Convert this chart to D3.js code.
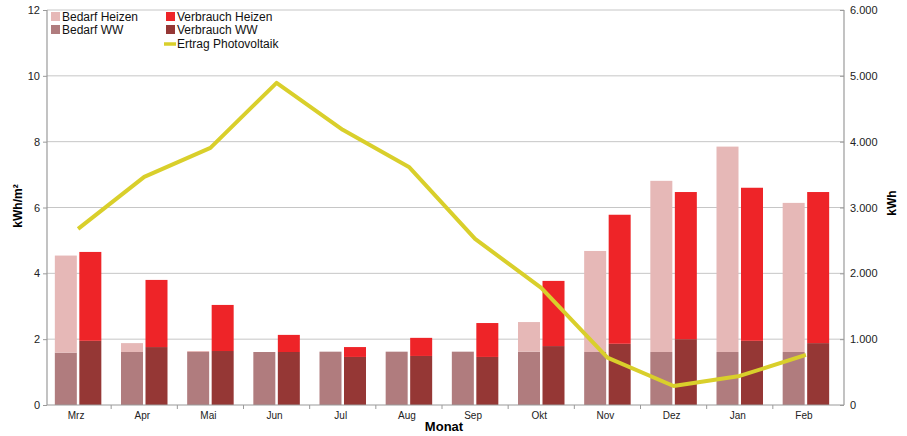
<!DOCTYPE html>
<html>
<head>
<meta charset="utf-8">
<script src="https://cdn.jsdelivr.net/npm/d3@7"></script>
<style>
  html, body { margin: 0; padding: 0; background: #fff; }
  svg { display: block; font-family: "Liberation Sans", Arial, sans-serif; }
</style>
</head>
<body>
<svg id="chart" width="907" height="436"></svg>
<script>
// Monthly demand vs. consumption (kWh/m²) and photovoltaic yield (kWh)
const months = ["Mrz", "Apr", "Mai", "Jun", "Jul", "Aug", "Sep", "Okt", "Nov", "Dez", "Jan", "Feb"];

const bedarfWW      = [1.59, 1.61, 1.61, 1.61, 1.62, 1.62, 1.62, 1.62, 1.61, 1.61, 1.61, 1.61];
const bedarfHeizen  = [2.95, 0.27, 0.03, 0.00, 0.00, 0.00, 0.00, 0.90, 3.07, 5.20, 6.24, 4.53];
const verbrauchWW     = [1.95, 1.76, 1.64, 1.61, 1.46, 1.49, 1.46, 1.79, 1.86, 2.00, 1.95, 1.88];
const verbrauchHeizen = [2.70, 2.04, 1.40, 0.52, 0.30, 0.55, 1.03, 1.98, 3.92, 4.47, 4.65, 4.59];

const ertragPV = [2675, 3465, 3906, 4894, 4180, 3617, 2523, 1778, 719, 289, 441, 760];

const leftTicks  = [0, 2, 4, 6, 8, 10, 12];
const rightTicks = [0, 1000, 2000, 3000, 4000, 5000, 6000];

const colors = {
  bedarfHeizen: "#e6b8b7",
  bedarfWW: "#b07c7e",
  verbrauchHeizen: "#ee2428",
  verbrauchWW: "#953735",
  pv: "#d9cf2b"
};

const svg = d3.select("#chart");
const plotLeft = 47, plotRight = 844, plotTop = 10, plotBottom = 405;

// month bands (slightly inset from the right axis)
const x = d3.scaleBand().domain(months).range([45, 839]).padding(0);
const y = d3.scaleLinear().domain([0, 12]).range([plotBottom, plotTop]);
const y2 = d3.scaleLinear().domain([0, 6000]).range([plotBottom, plotTop]);
const cx = m => x(m) + x.bandwidth() / 2;

// horizontal gridlines
svg.append("g").selectAll("line")
  .data(leftTicks.filter(d => d > 0))
  .join("line")
  .attr("x1", plotLeft).attr("x2", plotRight)
  .attr("y1", d => y(d)).attr("y2", d => y(d))
  .attr("stroke", "#c6c6c6").attr("stroke-width", 1);

// stacked bar pairs: demand (left) and consumption (right)
const barW = 22, gap = 2.5;
const groups = svg.append("g");
months.forEach((m, i) => {
  const c = cx(m);
  const xl = c - gap / 2 - barW, xr = c + gap / 2;
  const stacks = [
    { x0: xl, segs: [[0, bedarfWW[i], colors.bedarfWW], [bedarfWW[i], bedarfWW[i] + bedarfHeizen[i], colors.bedarfHeizen]] },
    { x0: xr, segs: [[0, verbrauchWW[i], colors.verbrauchWW], [verbrauchWW[i], verbrauchWW[i] + verbrauchHeizen[i], colors.verbrauchHeizen]] }
  ];
  stacks.forEach(s => {
    s.segs.forEach(([a, b, col]) => {
      if (b - a <= 0) return;
      groups.append("rect")
        .attr("x", s.x0).attr("width", barW)
        .attr("y", y(b)).attr("height", y(a) - y(b))
        .attr("fill", col);
    });
  });
});

// axes
const axisColor = "#9a9a9a";
const yAxisL = svg.append("g").attr("transform", `translate(${plotLeft},0)`)
  .call(d3.axisLeft(y).tickValues(leftTicks).tickSize(4).tickFormat(d3.format("d")));
const yAxisR = svg.append("g").attr("transform", `translate(${plotRight},0)`)
  .call(d3.axisRight(y2).tickValues(rightTicks).tickSize(0).tickPadding(6)
    .tickFormat(d => d3.format(",")(d).replace(/,/g, ".")));
yAxisR.selectAll(".tick line").attr("x1", -4).attr("x2", 0);
const xAxis = svg.append("g").attr("transform", `translate(0,${plotBottom})`)
  .call(d3.axisBottom(x).tickSize(0).tickPadding(7));
xAxis.selectAll(".tick text").attr("dx", -2);

// category boundary ticks
svg.append("g").selectAll("line")
  .data(months.slice(1))
  .join("line")
  .attr("x1", m => x(m)).attr("x2", m => x(m))
  .attr("y1", plotBottom).attr("y2", plotBottom + 4)
  .attr("stroke", axisColor);

[yAxisL, yAxisR, xAxis].forEach(g => {
  g.selectAll(".domain").attr("stroke", axisColor).attr("stroke-width", 1.2);
  g.selectAll(".tick line").attr("stroke", axisColor);
  g.selectAll("text").attr("fill", "#222").style("font-size", "11px")
    .style("font-family", "'Liberation Sans', Arial, sans-serif");
});
xAxis.selectAll("text").style("font-size", "10px");
yAxisL.selectAll(".domain").attr("d", `M0,${plotTop}V${plotBottom}`);
yAxisR.selectAll(".domain").attr("d", `M0,${plotTop}V${plotBottom}`);
xAxis.selectAll(".domain").attr("d", `M${plotLeft},0H${plotRight}`);

// PV yield line
const line = d3.line()
  .x((d, i) => cx(months[i]))
  .y(d => y2(d));
svg.append("path").datum(ertragPV)
  .attr("d", line)
  .attr("fill", "none")
  .attr("stroke", colors.pv)
  .attr("stroke-width", 4)
  .attr("stroke-linejoin", "round");

// axis titles
svg.append("text")
  .attr("transform", `translate(22,206) rotate(-90)`)
  .attr("text-anchor", "middle")
  .style("font-size", "12px").style("font-weight", "bold")
  .text("kWh/m²");
svg.append("text")
  .attr("transform", `translate(896,203) rotate(-90)`)
  .attr("text-anchor", "middle")
  .style("font-size", "12px").style("font-weight", "bold")
  .text("kWh");
svg.append("text")
  .attr("x", 444).attr("y", 431)
  .attr("text-anchor", "middle")
  .style("font-size", "13px").style("font-weight", "bold")
  .text("Monat");

// legend
const legendItems = [
  { label: "Bedarf Heizen", color: colors.bedarfHeizen, x: 51, y: 12, type: "rect" },
  { label: "Bedarf WW", color: colors.bedarfWW, x: 51, y: 25, type: "rect" },
  { label: "Verbrauch Heizen", color: colors.verbrauchHeizen, x: 166, y: 12, type: "rect" },
  { label: "Verbrauch WW", color: colors.verbrauchWW, x: 166, y: 25, type: "rect" },
  { label: "Ertrag Photovoltaik", color: colors.pv, x: 164, y: 39, type: "line" }
];
const lg = svg.append("g");
legendItems.forEach(d => {
  if (d.type === "rect") {
    lg.append("rect").attr("x", d.x).attr("y", d.y).attr("width", 9).attr("height", 9).attr("fill", d.color);
  } else {
    lg.append("line").attr("x1", d.x).attr("x2", d.x + 12)
      .attr("y1", d.y + 5).attr("y2", d.y + 5)
      .attr("stroke", d.color).attr("stroke-width", 3.5);
  }
  lg.append("text").attr("x", d.type === "rect" ? d.x + 11 : d.x + 13).attr("y", d.y + 9)
    .style("font-size", "12px").attr("fill", "#111").text(d.label);
});
</script>
</body>
</html>
